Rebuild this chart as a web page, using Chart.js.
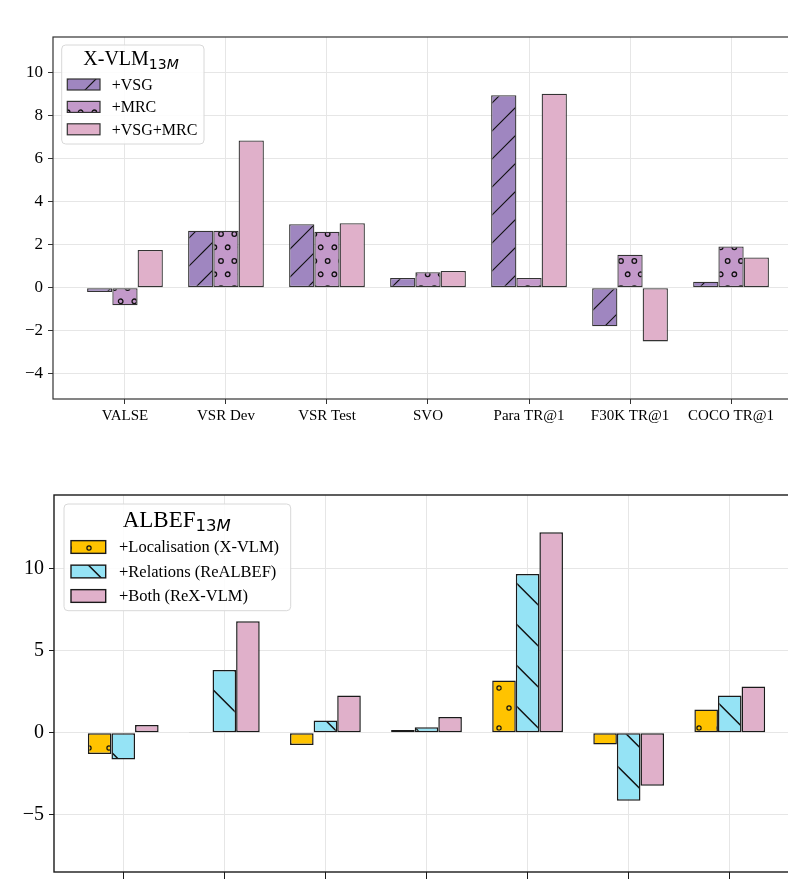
<!DOCTYPE html>
<html>
<head>
<meta charset="utf-8">
<script src="https://cdn.jsdelivr.net/npm/chart.js@4.4.1/dist/chart.umd.min.js"></script>
<style>
  html, body { margin: 0; padding: 0; background: #fff; overflow: hidden; }
  #wrap { position: relative; width: 788px; height: 884px; overflow: hidden; }
  canvas { position: absolute; left: 0; }
  #topChart { top: 0; }
  #bottomChart { top: 450px; }
</style>
</head>
<body>
<div id="wrap">
  <canvas id="topChart" width="810" height="440"></canvas>
  <canvas id="bottomChart" width="806" height="480"></canvas>
</div>
<script>
const categories = ["VALSE", "VSR Dev", "VSR Test", "SVO", "Para TR@1", "F30K TR@1", "COCO TR@1"];

// top panel - X-VLM 13M
const vsg    = [-0.2, 2.65, 2.95, 0.45, 8.95, -1.8, 0.28];
const mrc    = [-0.82, 2.65, 2.6, 0.72, 0.45, 1.53, 1.92];
const vsgMrc = [1.75, 6.85, 3.0, 0.78, 9.02, -2.5, 1.4];
const topTicks = [-4, -2, 0, 2, 4, 6, 8, 10];

// bottom panel - ALBEF 13M
const localisation = [-1.3, 0.05, -0.75, 0.16, 3.17, -0.72, 1.42];
const relations    = [-1.62, 3.82, 0.75, 0.33, 9.65, -4.13, 2.27];
const both         = [0.47, 6.78, 2.27, 0.95, 12.2, -3.22, 2.82];
const bottomTicks  = [-5, 0, 5, 10];

const SERIF = "'Liberation Serif', 'Times New Roman', serif";

/* patterns (anchored to the canvas like matplotlib hatches) */
function linePattern(bg, period, dir, phase, lw) {
  const c = document.createElement("canvas");
  c.width = period; c.height = period;
  const g = c.getContext("2d");
  g.fillStyle = bg;
  g.fillRect(0, 0, period, period);
  g.strokeStyle = "#111";
  g.lineWidth = lw;
  g.beginPath();
  for (let k = -3; k <= 3; k++) {
    const c0 = phase + k * period;
    if (dir === "/") { // x + y = c0
      g.moveTo(-period, c0 + period);
      g.lineTo(2 * period, c0 - 2 * period);
    } else { // y - x = c0
      g.moveTo(-period, c0 - period);
      g.lineTo(2 * period, c0 + 2 * period);
    }
  }
  g.stroke();
  return g.createPattern(c, "repeat");
}

function dotPattern(bg, w, h, pts, r, lw) {
  const c = document.createElement("canvas");
  c.width = w; c.height = h;
  const g = c.getContext("2d");
  g.fillStyle = bg;
  g.fillRect(0, 0, w, h);
  g.strokeStyle = "#111";
  g.lineWidth = lw;
  pts.forEach(p => {
    for (let i = -1; i <= 1; i++) {
      for (let j = -1; j <= 1; j++) {
        g.beginPath();
        g.arc(p[0] + i * w, p[1] + j * h, r, 0, Math.PI * 2);
        g.stroke();
      }
    }
  });
  return g.createPattern(c, "repeat");
}

const topCtx = document.getElementById("topChart").getContext("2d");
const botCtx = document.getElementById("bottomChart").getContext("2d");

const vsgFill = linePattern("#9f86c0", 28, "/", 7, 1.2);
const mrcFill = dotPattern("#c399ca", 40, 27,
  [[7.67, 18], [21, 18], [34.33, 18], [0.67, 4.3], [14.33, 4.3], [27.67, 4.3]], 2.3, 1.3);
const pinkTop = "#e0b0ca";

const locFill = dotPattern("#ffc300", 20, 40, [[19, 38], [9, 18]], 2.1, 1.2);
const relFill = linePattern("#95e3f5", 41, "\\", 26.7, 1.5);
const pinkBot = "#e0b0ca";

/* frame + legend */
function framePlugin(color, width) {
  return {
    id: "frame",
    afterDatasetsDraw(chart) {
      const a = chart.chartArea, ctx = chart.ctx;
      ctx.save();
      ctx.strokeStyle = color;
      ctx.lineWidth = width;
      ctx.strokeRect(a.left, a.top, a.right - a.left, a.bottom - a.top);
      ctx.restore();
    }
  };
}

function legendPlugin(o) {
  return {
    id: "boxLegend",
    afterDraw(chart) {
      const ctx = chart.ctx;
      ctx.save();
      ctx.fillStyle = "rgba(255,255,255,0.85)";
      ctx.strokeStyle = "#d8d8d8";
      ctx.lineWidth = 1;
      ctx.beginPath();
      ctx.roundRect(o.box[0], o.box[1], o.box[2], o.box[3], 4);
      ctx.fill();
      ctx.stroke();

      ctx.fillStyle = "#000";
      ctx.textAlign = "left";
      ctx.textBaseline = "alphabetic";
      ctx.font = o.titleSize + "px " + SERIF;
      ctx.fillText(o.title, o.titleX, o.titleY);
      let x = o.titleX + ctx.measureText(o.title).width;
      ctx.font = o.subSize + "px 'DejaVu Sans'";
      ctx.fillText("13", x, o.subY);
      x += ctx.measureText("13").width;
      ctx.font = "italic " + o.subSize + "px 'DejaVu Sans'";
      ctx.fillText("M", x, o.subY);

      ctx.font = o.labelSize + "px " + SERIF;
      ctx.textBaseline = "middle";
      o.items.forEach((it, i) => {
        const cy = o.rows[i];
        ctx.fillStyle = it.fill;
        ctx.fillRect(o.swX, cy - o.swH / 2, o.swW, o.swH);
        ctx.strokeStyle = o.edge;
        ctx.lineWidth = o.edgeW;
        ctx.strokeRect(o.swX, cy - o.swH / 2, o.swW, o.swH);
        ctx.fillStyle = "#000";
        ctx.fillText(it.label, o.textX, cy + 1);
      });
      ctx.restore();
    }
  };
}

function minusLabel(v) {
  return v < 0 ? "\u2212" + Math.abs(v) : String(v);
}

function makeChart(ctx, p) {
  return new Chart(ctx, {
    type: "bar",
    data: {
      datasets: p.series.map(s => ({
        label: s.label,
        data: s.values.map((v, i) => ({ x: i, y: v })),
        backgroundColor: s.fill,
        borderColor: p.edge,
        borderWidth: p.edgeW,
        borderSkipped: false,
        categoryPercentage: p.groupWidth,
        barPercentage: 1.0
      }))
    },
    options: {
      responsive: false,
      animation: false,
      layout: { padding: { top: p.padTop, right: p.padRight, left: 0, bottom: 0 } },
      plugins: { legend: { display: false }, tooltip: { enabled: false } },
      scales: {
        x: {
          type: "linear",
          offset: false,
          min: p.xMin,
          max: p.xMax,
          afterBuildTicks: s => { s.ticks = categories.map((_, i) => ({ value: i })); },
          afterFit: s => { s.height = p.xAxisH; },
          grid: { offset: false, color: "#e6e6e6", lineWidth: 1, tickColor: p.edge, tickLength: p.xTickLen },
          border: { display: false },
          ticks: {
            callback: v => categories[v],
            color: "#000",
            font: { family: SERIF, size: p.xFont },
            padding: p.xPad,
            maxRotation: 0,
            autoSkip: false
          }
        },
        y: {
          min: p.yMin,
          max: p.yMax,
          afterBuildTicks: s => { s.ticks = p.yTicks.map(v => ({ value: v })); },
          afterFit: s => { s.width = p.yAxisW; },
          grid: { color: "#e6e6e6", lineWidth: 1, tickColor: p.edge, tickLength: 5 },
          border: { display: false },
          ticks: {
            callback: minusLabel,
            color: "#000",
            font: { family: SERIF, size: p.yFont },
            padding: 5
          }
        }
      }
    },
    plugins: [framePlugin(p.edge, p.frameW), legendPlugin(p.legend)]
  });
}

makeChart(topCtx, {
  series: [
    { label: "+VSG", values: vsg, fill: vsgFill },
    { label: "+MRC", values: mrc, fill: mrcFill },
    { label: "+VSG+MRC", values: vsgMrc, fill: pinkTop }
  ],
  edge: "#333333", edgeW: 1.3, frameW: 1.2,
  groupWidth: 0.75,
  padTop: 37, padRight: 7,
  xMin: -0.7125, xMax: 6.7125, xAxisH: 41, xFont: 15, xTickLen: 5, xPad: 3,
  yMin: -5.18, yMax: 11.66, yTicks: topTicks, yAxisW: 53, yFont: 17,
  legend: {
    box: [61.7, 45, 142.3, 99],
    title: "X-VLM", titleSize: 20, titleX: 83.3, titleY: 65,
    subSize: 14, subY: 68.5,
    labelSize: 16,
    swX: 67.3, swW: 32.7, swH: 11, textX: 111.7,
    rows: [84.5, 106.9, 129.3],
    edge: "#333333", edgeW: 1.2,
    items: [
      { label: "+VSG", fill: vsgFill },
      { label: "+MRC", fill: mrcFill },
      { label: "+VSG+MRC", fill: pinkTop }
    ]
  }
});

makeChart(botCtx, {
  series: [
    { label: "+Localisation (X-VLM)", values: localisation, fill: locFill },
    { label: "+Relations (ReALBEF)", values: relations, fill: relFill },
    { label: "+Both (ReX-VLM)", values: both, fill: pinkBot }
  ],
  edge: "#1a1a1a", edgeW: 1.5, frameW: 1.4,
  groupWidth: 0.7,
  padTop: 45, padRight: 7,
  xMin: -0.685, xMax: 6.685, xAxisH: 58, xFont: 15, xTickLen: 7, xPad: 10,
  yMin: -8.47, yMax: 14.46, yTicks: bottomTicks, yAxisW: 54, yFont: 20,
  legend: {
    box: [64, 54, 226.7, 106.7],
    title: "ALBEF", titleSize: 23, titleX: 122.7, titleY: 76.7,
    subSize: 16.5, subY: 81,
    labelSize: 16.5,
    swX: 71, swW: 34.7, swH: 12.7, textX: 119,
    rows: [97, 121.5, 146],
    edge: "#1a1a1a", edgeW: 1.4,
    items: [
      { label: "+Localisation (X-VLM)", fill: locFill },
      { label: "+Relations (ReALBEF)", fill: relFill },
      { label: "+Both (ReX-VLM)", fill: pinkBot }
    ]
  }
});
</script>
</body>
</html>
